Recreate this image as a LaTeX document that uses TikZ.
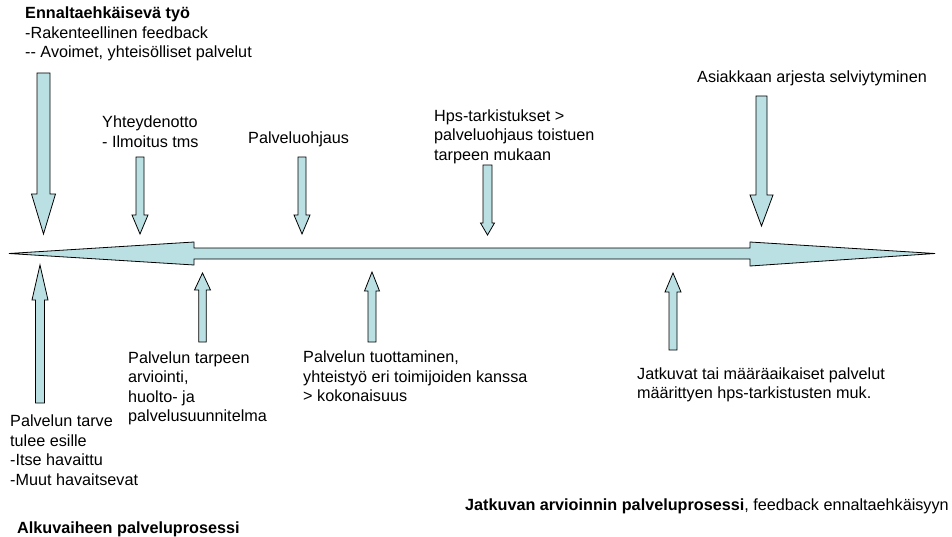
\documentclass[tikz,border=0pt]{standalone}
\usepackage{fontspec}
\setmainfont{Liberation Sans}
\definecolor{arrfill}{RGB}{187,224,227}
\newcommand\varr[6]{\draw[arr] ({#1-#5},#2) -- ({#1-#5},#3) -- ({#1-#6},#3) -- (#1,#4) -- ({#1+#6},#3) -- ({#1+#5},#3) -- ({#1+#5},#2) -- cycle;}
\tikzset{
  arr/.style={draw=black, fill=arrfill, line width=0.8pt, line join=miter},
  lbl/.style={anchor=base west, inner sep=0pt, font=\fontsize{16.2}{19.5}\selectfont}
}
\newcommand\lines[1]{\begin{tabular}[t]{@{}l@{}}#1\end{tabular}}
\begin{document}
\begin{tikzpicture}[x=1pt,y=-1pt]
\useasboundingbox[fill=white] (0,0) rectangle (952,537);
% main timeline double arrow
\draw[arr] (9,253.5) -- (194,242) -- (194,248) -- (750,248) -- (750,242) -- (935,253.5)
  -- (750,266) -- (750,259) -- (194,259) -- (194,265) -- cycle;
% down arrows
\varr{43.5}{73}{194}{234}{6.5}{12}
\varr{140}{157}{215}{234}{4}{8}
\varr{302}{157}{215}{234}{4}{8}
\varr{487.5}{165}{223}{235}{4.5}{7}
\varr{761.5}{96}{195}{226}{5.5}{11.5}
% up arrows
\varr{40}{403}{300}{265}{4.5}{8}
\varr{202.5}{342}{290}{273}{3.75}{8}
\varr{372}{342}{291}{272}{4}{7.5}
\varr{673}{350}{292}{273}{4}{8}
% texts
\node[lbl] (enn) at (25,19) {\lines{\bfseries Ennaltaehkäisevä työ\\-Rakenteellinen feedback\\-{}- Avoimet, yhteisölliset palvelut}};
\node[lbl] (yht) at (102,128) {\lines{Yhteydenotto\\- Ilmoitus tms}};
\node[lbl] (poh) at (248,144) {Palveluohjaus};
\node[lbl] (hps) at (434,121.5) {\lines{Hps-tarkistukset >\\palveluohjaus toistuen\\tarpeen mukaan}};
\node[lbl] (asi) at (697,82.3) {Asiakkaan arjesta selviytyminen};
\node[lbl] (tarve) at (10,426.5) {\lines{Palvelun tarve\\tulee esille\\-Itse havaittu\\-Muut havaitsevat}};
\node[lbl] (tarpeen) at (128,363) {\lines{Palvelun tarpeen\\arviointi,\\huolto- ja\\palvelusuunnitelma}};
\node[lbl] (tuot) at (303,362.5) {\lines{Palvelun tuottaminen,\\yhteistyö eri toimijoiden kanssa\\> kokonaisuus}};
\node[lbl] (jatk) at (637,379.3) {\lines{Jatkuvat tai määräaikaiset palvelut\\määrittyen hps-tarkistusten muk.}};
\node[lbl] (alku) at (17,533) {\bfseries Alkuvaiheen palveluprosessi};
\node[lbl] (jarv) at (465,510) {{\bfseries Jatkuvan arvioinnin palveluprosessi}, feedback ennaltaehkäisyyn};
\end{tikzpicture}
\end{document}
